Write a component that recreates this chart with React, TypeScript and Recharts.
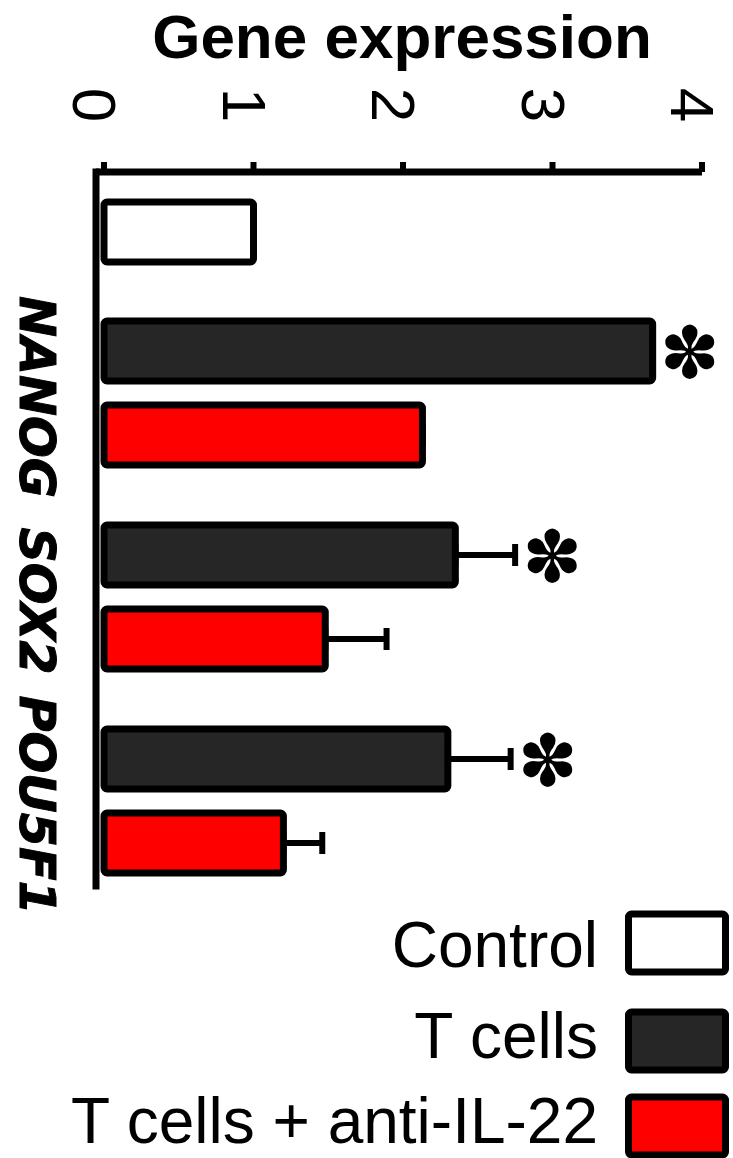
import React from 'react';
import { BarChart, Bar, XAxis, YAxis, ErrorBar, LabelList } from 'recharts';

// relative expression, control normalised to 1
const genes = ['NANOG', 'SOX2', 'POU5F1'];
const controlValue = [1];
const tCells = [3.67, 2.35, 2.3];
const tCellsErr = [0, 0.4, 0.42];
const antiIL22 = [2.13, 1.48, 1.2];
const antiIL22Err = [0, 0.41, 0.26];
const tCellsSignificant = [true, true, true];
const xTicks = [0, 1, 2, 3, 4];

const seriesNames = ['Control', 'T cells', 'T cells + anti-IL-22'];
const seriesFill = ['#ffffff', '#262626', '#ff0000'];

const controlData = [{ name: seriesNames[0], value: controlValue[0] }];
const geneData = genes.map((gene, i) => ({
  gene,
  tCells: tCells[i],
  tCellsErr: [0, tCellsErr[i]],
  anti: antiIL22[i],
  antiErr: [0, antiIL22Err[i]],
}));

const W = 733;
const H = 1158;
const AXIS_Y = 172;
const SPLIT_Y = 291;
const AXIS_END_Y = 886;
const sans = 'Liberation Sans, Arial, sans-serif';

// legend rows: swatch centre and text baseline
const legendBoxY = [943, 1041, 1126];
const legendTextY = [967, 1058, 1143];

const XTick = (props: any) => {
  const { x, payload } = props;
  return (
    <text
      transform={`translate(${x - 31},105) rotate(90)`}
      textAnchor="middle"
      fontFamily={sans}
      fontSize={62}
      fill="#000"
    >
      {payload.value}
    </text>
  );
};

const GeneTick = (props: any) => {
  const { y, payload } = props;
  return (
    <text
      transform={`translate(20,${y + 4}) rotate(90)`}
      textAnchor="middle"
      fontFamily="DejaVu Sans"
      fontWeight="bold"
      fontStyle="italic"
      fontSize={49}
      stroke="#000"
      strokeWidth={1}
      fill="#000"
    >
      {payload.value}
    </text>
  );
};

// asterisk placed just past the end of the error bar
const Star = (props: any) => {
  const { index } = props;
  const vb = props.viewBox ?? props;
  if (!tCellsSignificant[index]) return null;
  const perUnit = vb.width / tCells[index];
  const end = vb.x + vb.width + tCellsErr[index] * perUnit;
  return (
    <text
      x={end + 37}
      y={vb.y + vb.height / 2 + 2}
      textAnchor="middle"
      dominantBaseline="central"
      fontFamily="DejaVu Sans"
      fontSize={72}
      fill="#000"
    >
      ✽
    </text>
  );
};

const axisLine = { stroke: '#000', strokeWidth: 7 };
const yAxisLine = { stroke: '#000', strokeWidth: 7, strokeLinecap: 'square' as const };

export default function App() {
  return (
    <div style={{ position: 'absolute', left: 0, top: 0, width: W, height: H, background: '#fff' }}>
      <svg width={W} height={H} style={{ position: 'absolute', left: 0, top: 0 }}>
        <text x={402} y={58} textAnchor="middle" fontFamily={sans} fontWeight="bold" fontSize={62}>
          Gene expression
        </text>
        {seriesNames.map((name, i) => (
          <g key={name}>
            <text x={598} y={legendTextY[i]} textAnchor="end" fontFamily={sans} fontSize={64}>
              {name}
            </text>
            <rect
              x={628.5}
              y={legendBoxY[i] - 29}
              width={97}
              height={58}
              rx={3}
              fill={seriesFill[i]}
              stroke="#000"
              strokeWidth={7}
            />
          </g>
        ))}
      </svg>

      <div style={{ position: 'absolute', left: 0, top: 0 }}>
        <BarChart
          layout="vertical"
          width={W}
          height={SPLIT_Y}
          data={controlData}
          margin={{ top: 0, right: 31, bottom: 0, left: 0 }}
        >
          <XAxis
            type="number"
            orientation="top"
            domain={[0, 4]}
            ticks={xTicks}
            height={AXIS_Y}
            padding={{ left: 8, right: 0 }}
            axisLine={axisLine}
            tickLine={{ stroke: '#000', strokeWidth: 6 }}
            tickSize={10}
            tick={<XTick />}
          />
          <YAxis type="category" dataKey="name" width={96} tick={false} tickLine={false} axisLine={yAxisLine} />
          <Bar dataKey="value" fill={seriesFill[0]} stroke="#000" strokeWidth={7} radius={3} barSize={60} isAnimationActive={false} />
        </BarChart>
      </div>

      <div style={{ position: 'absolute', left: 0, top: SPLIT_Y }}>
        <BarChart
          layout="vertical"
          width={W}
          height={940 - SPLIT_Y}
          data={geneData}
          barSize={60}
          barGap={24}
          margin={{ top: 0, right: 31, bottom: 940 - AXIS_END_Y, left: 0 }}
        >
          <XAxis type="number" hide domain={[0, 4]} ticks={xTicks} padding={{ left: 8, right: 0 }} />
          <YAxis
            type="category"
            dataKey="gene"
            width={96}
            tickLine={false}
            axisLine={yAxisLine}
            tick={<GeneTick />}
            padding={{ top: 0, bottom: -17 }}
          />
          <Bar dataKey="tCells" fill={seriesFill[1]} stroke="#000" strokeWidth={7} radius={3} isAnimationActive={false}>
            <ErrorBar dataKey="tCellsErr" direction="x" width={11} stroke="#000" strokeWidth={6} />
            <LabelList dataKey="tCells" content={<Star />} />
          </Bar>
          <Bar dataKey="anti" fill={seriesFill[2]} stroke="#000" strokeWidth={7} radius={3} isAnimationActive={false}>
            <ErrorBar dataKey="antiErr" direction="x" width={11} stroke="#000" strokeWidth={6} />
          </Bar>
        </BarChart>
      </div>
    </div>
  );
}
